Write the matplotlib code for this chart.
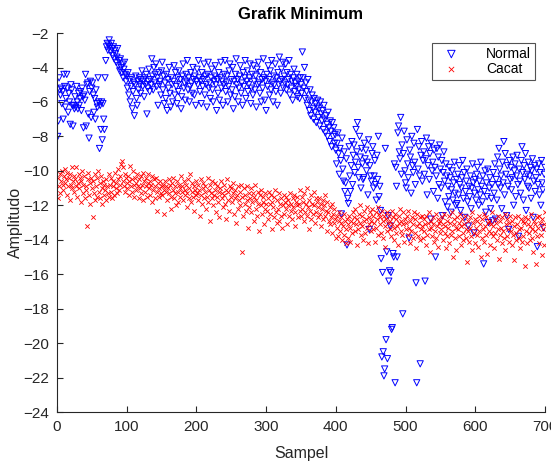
import numpy as np
import matplotlib
matplotlib.use("Agg")
import matplotlib.pyplot as plt

# minimum amplitude per sample, two classes
normal = np.array("""
-8.0 -7.1 -4.6 -5.3 -5.6 -5.2 -6.1 -5.4 -7.0 -4.4 -5.1 -6.3 -5.8 -4.4 -5.2 -6.6 -5.5 -6.0 -7.3 -5.0 -5.3 -6.2 -7.4 -6.2 -6.4
-5.7 -6.3 -5.1 -6.0 -6.4 -5.5 -6.2 -5.8 -5.4 -6.5 -5.2 -5.7 -7.5 -5.6 -5.9 -4.4 -7.4 -5.0 -4.9 -6.7 -8.1 -5.4 -4.8 -6.9 -5.2
-4.9 -5.6 -6.6 -5.8 -7.0 -5.3 -6.1 -6.3 -4.6 -6.0 -8.7 -6.2 -7.6 -6.0 -8.2 -6.1 -7.0 -7.6 -4.6 -3.6 -2.8 -2.6 -3.0 -2.7 -2.4
-2.8 -3.1 -2.6 -2.9 -3.3 -2.8 -3.5 -3.0 -3.2 -3.7 -3.4 -2.9 -3.9 -3.6 -4.2 -3.5 -4.0 -4.3 -3.8 -4.6 -4.1 -3.7 -4.4 -4.8 -4.5
-5.2 -4.3 -5.6 -4.7 -6.0 -5.1 -4.6 -6.4 -5.4 -4.9 -6.8 -5.0 -4.5 -5.8 -6.2 -4.8 -5.3 -4.6 -5.0 -5.5 -4.7 -4.2 -5.1 -4.8 -5.7
-4.6 -5.0 -4.4 -6.7 -5.2 -4.8 -4.1 -5.4 -4.7 -5.0 -3.5 -4.5 -5.3 -4.0 -4.9 -4.4 -3.8 -5.1 -4.6 -6.2 -4.3 -5.0 -4.8 -5.6 -4.2
-3.7 -5.3 -4.5 -6.1 -4.9 -5.8 -4.4 -6.5 -4.7 -5.2 -4.0 -5.5 -6.3 -4.6 -5.0 -6.0 -4.8 -3.9 -5.6 -4.3 -5.1 -6.1 -4.6 -5.4 -4.2
-5.0 -4.7 -6.4 -5.7 -4.5 -3.8 -5.2 -4.9 -5.9 -4.4 -4.8 -3.6 -5.3 -4.6 -6.0 -5.1 -4.3 -4.9 -5.5 -4.0 -4.7 -5.6 -4.5 -6.2 -4.8
-4.1 -5.0 -3.6 -4.6 -5.4 -4.8 -6.1 -4.3 -5.1 -4.7 -3.8 -5.6 -4.5 -5.0 -6.3 -4.4 -3.7 -5.2 -4.9 -5.8 -4.6 -4.1 -5.3 -6.0 -4.8
-4.5 -3.9 -5.0 -6.5 -4.7 -5.5 -4.3 -5.9 -4.6 -3.7 -5.2 -4.8 -6.2 -5.0 -4.4 -3.6 -5.4 -4.9 -4.5 -6.0 -5.1 -4.2 -3.8 -5.6 -4.7
-5.3 -4.0 -6.4 -4.8 -5.7 -4.4 -3.5 -5.0 -4.7 -6.0 -5.2 -4.5 -3.9 -5.5 -4.9 -6.2 -4.3 -5.1 -4.6 -3.6 -5.8 -4.8 -4.2 -5.4 -5.0
-4.6 -3.8 -6.1 -5.2 -4.4 -5.6 -3.9 -4.8 -5.3 -4.5 -6.3 -4.1 -5.0 -3.7 -4.9 -5.5 -4.3 -6.0 -4.7 -5.2 -3.5 -4.6 -5.9 -4.8 -6.5
-4.4 -5.1 -3.9 -4.7 -5.6 -4.2 -5.3 -3.6 -4.9 -6.0 -4.5 -5.0 -3.8 -5.4 -4.6 -6.2 -4.3 -5.0 -3.4 -4.8 -5.5 -4.1 -4.7 -3.7 -5.2
-4.5 -4.9 -3.8 -5.3 -4.3 -5.0 -4.7 -3.6 -5.6 -4.4 -5.2 -4.8 -5.9 -4.6 -4.1 -5.4 -4.9 -5.1 -4.4 -5.7 -4.8 -5.3 -5.8 -4.6 -5.0
-5.5 -3.1 -4.6 -5.2 -4.0 -5.8 -4.9 -5.4 -6.2 -4.7 -5.9 -6.5 -5.3 -6.8 -6.0 -5.6 -6.4 -7.0 -5.8 -6.6 -6.1 -7.2 -6.3 -5.9 -6.9
-6.4 -7.4 -6.0 -6.7 -7.1 -6.5 -7.6 -6.2 -7.0 -7.8 -6.8 -7.3 -8.0 -6.6 -7.5 -8.3 -7.1 -7.7 -8.6 -7.2 -8.0 -7.5 -8.4 -7.9 -8.8
-9.6 -8.4 -7.8 -9.0 -10.2 -8.7 -9.4 -12.5 -8.1 -9.9 -10.6 -8.9 -11.2 -10.7 -9.3 -14.3 -11.6 -11.9 -8.6 -10.3 -11.2 -9.7 -8.3 -10.8 -9.1
-8.5 -10.1 -9.5 -7.6 -8.9 -7.2 -9.8 -10.4 -8.0 -9.2 -11.0 -8.7 -9.6 -10.5 -10.4 -8.4 -9.3 -8.8 -10.0 -9.5 -11.4 -8.2 -13.4 -9.7 -10.3
-10.6 -9.0 -8.6 -11.0 -10.3 -9.4 -10.8 -11.7 -9.1 -10.5 -8.0 -11.5 -10.9 -12.3 -15.1 -20.8 -15.9 -20.5 -21.9 -21.5 -8.7 -19.8 -14.7 -20.9 -12.6
-16.4 -15.8 -13.2 -15.9 -19.2 -19.1 -14.8 -15.0 -9.6 -22.3 -9.8 -10.9 -15.0 -7.8 -7.4 -8.9 -9.3 -6.9 -10.2 -8.5 -18.3 -9.0 -7.7 -10.0 -10.7
-11.0 -8.2 -9.6 -10.4 -13.9 -8.8 -9.2 -11.3 -8.0 -9.7 -10.1 -8.4 -9.5 -10.8 -16.5 -22.3 -7.6 -9.9 -8.6 -10.3 -21.2 -9.1 -8.3 -10.6 -9.4
-8.9 -10.2 -16.4 -9.3 -8.1 -11.4 -9.7 -8.6 -10.5 -9.0 -12.8 -8.4 -10.0 -9.5 -11.2 -8.8 -9.8 -15.0 -10.3 -8.7 -11.6 -9.2 -10.8 -8.5 -9.9
-11.0 -9.4 -12.6 -10.1 -8.9 -10.6 -11.8 -9.6 -10.3 -12.1 -10.9 -11.5 -9.8 -10.4 -12.4 -11.1 -10.0 -11.7 -10.7 -9.5 -11.3 -12.0 -10.5 -11.9 -10.2
-11.4 -9.7 -10.8 -12.3 -11.0 -10.4 -9.4 -11.6 -10.1 -12.7 -11.2 -10.6 -9.9 -11.8 -13.2 -10.9 -11.5 -10.3 -12.2 -11.0 -9.6 -10.7 -13.6 -11.3 -10.5
-11.7 -10.2 -9.8 -11.1 -12.0 -10.6 -11.4 -9.5 -10.9 -11.8 -10.3 -15.4 -11.2 -10.0 -12.4 -10.7 -11.5 -9.9 -13.0 -11.0 -10.4 -12.2 -11.6 -10.8 -12.9
-10.1 -11.3 -9.6 -12.8 -10.5 -11.7 -9.2 -10.8 -8.7 -9.9 -11.0 -10.3 -12.2 -9.5 -10.7 -8.3 -11.4 -9.0 -10.2 -12.6 -9.7 -10.9 -13.4 -9.4 -10.5
-9.8 -11.1 -10.4 -9.2 -12.0 -10.0 -9.6 -11.5 -10.3 -9.1 -10.8 -13.8 -9.9 -10.6 -11.3 -9.4 -8.6 -10.1 -11.7 -9.7 -10.5 -9.0 -12.3 -10.2 -10.9
-9.5 -11.0 -10.3 -9.8 -11.6 -10.0 -9.3 -12.7 -10.6 -9.7 -11.2 -10.4 -9.9 -14.4 -10.8 -9.6 -11.4 -10.1 -12.0 -9.4 -10.7 -11.1 -13.3 -10.2 -9.8
""".split(), dtype=float)

cacat = np.array("""
-11.6 -10.4 -10.9 -10.2 -11.3 -10.6 -10.0 -10.8 -11.1 -10.3 -9.9 -10.7 -10.5 -11.4 -10.1 -10.9 -10.4 -11.7 -10.2 -10.8 -9.8 -11.0 -10.6 -10.3 -11.2
-10.5 -10.9 -9.8 -11.5 -10.7 -10.2 -11.0 -10.4 -11.8 -10.6 -10.0 -11.3 -10.8 -10.3 -11.6 -10.9 -11.1 -13.2 -10.5 -10.1 -11.4 -10.7 -11.9 -10.4 -11.0
-12.7 -10.6 -11.3 -10.2 -11.7 -10.9 -10.4 -11.5 -10.0 -11.2 -10.7 -11.6 -10.3 -11.0 -11.9 -10.6 -11.4 -10.8 -11.1 -10.5 -11.7 -10.9 -11.3 -10.2 -11.5
-10.8 -11.2 -10.4 -11.6 -10.9 -10.6 -11.4 -10.1 -11.0 -10.7 -11.3 -9.9 -10.5 -11.1 -10.8 -10.3 -9.6 -9.4 -10.6 -9.8 -10.9 -10.2 -11.2 -10.4 -10.7
-11.0 -10.3 -10.6 -11.4 -9.7 -10.9 -10.5 -11.2 -10.0 -10.8 -11.5 -10.4 -10.7 -11.1 -10.2 -10.9 -11.6 -10.5 -11.0 -10.3 -11.3 -10.8 -10.1 -11.7 -10.6
-11.2 -10.4 -10.9 -11.5 -10.7 -10.2 -11.0 -10.6 -11.4 -10.8 -11.8 -10.3 -11.1 -10.5 -11.6 -10.9 -10.4 -12.3 -11.2 -10.7 -11.0 -11.5 -10.6 -11.3 -10.9
-11.4 -10.8 -11.1 -12.5 -10.6 -11.2 -10.9 -11.7 -11.0 -10.5 -11.3 -10.8 -12.2 -11.5 -10.7 -11.1 -10.4 -11.6 -10.9 -11.3 -12.0 -10.6 -11.2 -11.8 -10.8
-11.0 -11.5 -10.3 -11.2 -10.9 -11.7 -10.6 -11.4 -11.1 -10.8 -12.1 -11.3 -10.5 -11.6 -11.0 -10.2 -11.8 -11.2 -10.7 -11.5 -12.3 -10.9 -11.1 -11.4 -10.6
-11.3 -11.7 -10.8 -11.1 -12.6 -11.4 -10.5 -11.9 -11.0 -10.7 -11.6 -11.2 -10.9 -12.2 -11.5 -10.4 -11.8 -11.1 -12.9 -10.8 -11.3 -11.6 -10.6 -12.0 -11.4
-11.1 -10.7 -12.4 -11.5 -10.9 -11.8 -11.2 -12.7 -11.0 -10.6 -11.6 -11.3 -12.1 -10.8 -11.4 -11.9 -11.1 -12.8 -10.5 -11.7 -11.2 -12.3 -10.9 -11.5 -11.0
-11.8 -11.3 -10.7 -12.5 -11.6 -11.1 -13.0 -11.4 -10.9 -12.2 -11.7 -11.2 -12.0 -10.8 -14.7 -11.5 -12.6 -11.0 -11.9 -11.4 -12.3 -10.9 -11.7 -13.3 -11.3
-12.1 -11.6 -11.0 -12.4 -11.8 -11.3 -12.9 -11.5 -10.8 -12.2 -11.7 -12.6 -11.2 -11.9 -13.5 -11.4 -12.0 -11.1 -12.5 -11.8 -11.5 -13.1 -12.2 -11.3 -11.9
-12.3 -11.6 -12.8 -11.2 -11.9 -12.5 -11.4 -13.4 -11.8 -12.1 -11.5 -12.7 -11.1 -12.4 -13.0 -11.7 -12.2 -11.3 -12.9 -11.9 -12.6 -11.6 -13.3 -12.0 -11.4
-12.5 -11.8 -12.2 -11.5 -13.1 -12.0 -11.7 -12.6 -11.3 -12.3 -11.9 -12.8 -11.6 -12.1 -11.4 -13.2 -12.4 -11.8 -12.0 -11.5 -12.7 -11.9 -12.3 -11.1 -12.6
-11.5 -12.2 -11.8 -12.9 -11.3 -12.4 -11.9 -12.6 -11.0 -12.1 -13.4 -11.7 -12.3 -11.4 -12.8 -11.9 -12.5 -11.2 -12.0 -13.0 -11.6 -12.4 -11.8 -12.7 -12.1
-11.6 -12.5 -11.9 -13.2 -12.2 -11.7 -12.8 -12.0 -11.4 -12.6 -12.3 -13.5 -11.8 -12.4 -12.9 -12.1 -13.1 -12.7 -11.9 -13.6 -12.5 -12.2 -13.0 -12.8 -13.9
-13.3 -12.6 -13.8 -12.9 -12.4 -13.5 -13.0 -12.7 -14.0 -13.2 -12.5 -13.7 -12.9 -14.2 -13.4 -12.8 -13.1 -13.9 -12.6 -13.3 -14.1 -12.9 -13.6 -12.4 -13.0
-12.7 -13.5 -12.2 -13.1 -14.3 -12.8 -13.4 -12.5 -13.0 -12.0 -13.7 -12.6 -13.2 -14.0 -12.9 -12.3 -13.6 -12.8 -13.3 -12.1 -14.2 -12.7 -13.1 -12.4 -13.5
-12.9 -12.2 -13.4 -12.6 -13.0 -14.1 -12.4 -13.3 -12.8 -12.1 -13.7 -12.5 -13.1 -12.7 -13.6 -12.3 -13.9 -12.9 -12.6 -13.2 -14.4 -12.8 -13.5 -12.4 -13.0
-12.6 -13.4 -12.9 -13.8 -12.3 -13.1 -12.7 -14.0 -13.3 -12.5 -13.6 -12.8 -13.2 -14.3 -12.6 -13.0 -12.2 -13.5 -12.9 -13.7 -12.4 -13.1 -14.1 -12.8 -13.4
-13.0 -12.6 -13.7 -12.3 -13.3 -14.2 -12.9 -13.5 -12.7 -13.9 -13.1 -12.4 -13.6 -12.8 -14.5 -13.2 -12.5 -13.8 -13.0 -12.7 -14.0 -13.4 -12.6 -13.2 -13.9
-12.8 -13.5 -13.1 -14.3 -12.6 -13.7 -13.0 -12.4 -13.4 -14.7 -12.9 -13.3 -13.8 -12.7 -13.1 -14.1 -13.5 -12.5 -13.9 -13.2 -12.8 -14.4 -13.0 -13.6 -12.9
-13.4 -12.7 -14.0 -13.1 -12.5 -13.6 -13.2 -14.5 -12.9 -13.8 -13.3 -12.6 -14.2 -13.0 -13.7 -12.4 -13.5 -15.0 -13.1 -12.8 -13.9 -13.3 -14.6 -12.7 -13.4
-13.0 -13.8 -12.5 -14.3 -13.2 -12.8 -13.6 -14.0 -13.1 -12.6 -13.9 -13.4 -15.3 -12.9 -13.5 -14.1 -12.7 -13.3 -13.8 -12.4 -14.6 -13.0 -13.6 -12.8 -14.2
-13.3 -12.9 -13.7 -14.4 -12.6 -13.5 -13.1 -15.0 -12.8 -13.9 -13.4 -12.5 -14.1 -13.2 -13.7 -12.7 -14.8 -13.0 -13.5 -12.9 -14.3 -13.6 -13.1 -12.4 -13.8
-13.2 -14.5 -12.8 -13.6 -13.0 -14.0 -12.6 -13.4 -15.1 -12.9 -13.7 -13.3 -14.2 -12.7 -13.5 -13.9 -12.5 -14.6 -13.1 -13.8 -12.8 -13.4 -14.1 -13.0 -12.6
-13.5 -14.3 -12.9 -13.7 -13.2 -15.2 -12.7 -13.6 -14.0 -13.1 -12.6 -13.9 -13.4 -14.5 -12.8 -13.3 -14.1 -12.9 -13.8 -13.0 -15.5 -12.7 -13.5 -14.2 -13.1
-12.8 -13.6 -14.0 -13.2 -12.5 -13.9 -13.4 -14.7 -12.9 -13.5 -13.1 -15.4 -12.7 -13.8 -13.3 -14.2 -12.6 -13.0 -13.7 -14.9 -12.8 -13.4 -13.1 -14.3 -12.4
""".split(), dtype=float)

sampel = np.arange(1, len(normal) + 1)

plt.rcParams['font.family'] = ['Liberation Sans', 'DejaVu Sans']
grey = '#262626'

fig = plt.figure(figsize=(5.51, 4.63), dpi=100)
ax = fig.add_axes([0.1034, 0.110, 0.8857, 0.8186])

ax.scatter(sampel, normal, s=20, marker='v', facecolors='none',
           edgecolors='#0000ff', linewidths=0.7, label='Normal')
ax.scatter(sampel, cacat, s=10, marker='x', color='#ff0000',
           linewidths=0.6, label='Cacat')

ax.set_xlim(0, 700)
ax.set_ylim(-24, -2)
ax.set_xticks(np.arange(0, 701, 100))
ax.set_yticks(np.arange(-24, -1, 2))

for side in ['top', 'right']:
    ax.spines[side].set_visible(False)
for side in ['left', 'bottom']:
    ax.spines[side].set_color(grey)
    ax.spines[side].set_linewidth(0.8)
ax.tick_params(direction='in', length=4, width=0.8, colors=grey,
               labelsize=11, pad=6)

ax.set_xlabel('Sampel', fontsize=11.5, color=grey, labelpad=8)
ax.set_ylabel('Amplitudo', fontsize=11.5, color=grey, labelpad=0)
ax.set_title('Grafik Minimum', fontsize=12, fontweight='bold', pad=10)

leg = ax.legend(loc='upper right', bbox_to_anchor=(0.98, 0.975),
                fontsize=10, frameon=True, fancybox=False,
                edgecolor='#262626', borderaxespad=0, handletextpad=1.4,
                borderpad=0.3, labelspacing=0.1, scatterpoints=1,
                markerscale=1.2, handlelength=2.2)
leg.get_frame().set_linewidth(0.8)

fig.savefig('out.png', dpi=100)
